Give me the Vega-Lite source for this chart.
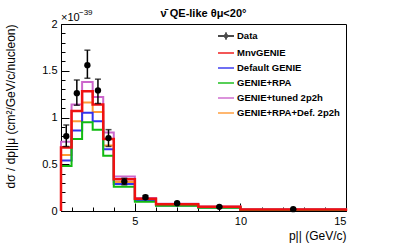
{
  "$schema": "https://vega.github.io/schema/vega-lite/v6.json",
  "width": 285,
  "height": 187,
  "autosize": {"type": "none"},
  "padding": {"left": 61, "top": 24, "right": 61, "bottom": 38},
  "background": "white",
  "config": {
    "font": "Liberation Sans",
    "view": {"stroke": "black", "strokeWidth": 1},
    "axis": {"domainColor": "black", "tickColor": "black", "labelColor": "black", "titleColor": "black", "grid": false, "labelFont": "Liberation Sans", "titleFont": "Liberation Sans", "labelFontSize": 11, "titleFontSize": 12, "titleFontWeight": "normal", "labelOverlap": false}
  },
  "title": {"text": "ν̄ QE-like  θμ<20°", "fontSize": 11, "fontWeight": "bold", "font": "Liberation Sans", "offset": -10, "anchor": "middle", "color": "black"},
  "datasets": {
    "hist": [
      {"m": "GENIE+tuned 2p2h", "i": 0, "x": 1.5, "y": 0},
      {"m": "GENIE+tuned 2p2h", "i": 1, "x": 1.5, "y": 0.74},
      {"m": "GENIE+tuned 2p2h", "i": 2, "x": 2, "y": 1.14},
      {"m": "GENIE+tuned 2p2h", "i": 3, "x": 2.5, "y": 1.38},
      {"m": "GENIE+tuned 2p2h", "i": 4, "x": 3, "y": 1.22},
      {"m": "GENIE+tuned 2p2h", "i": 5, "x": 3.5, "y": 0.84},
      {"m": "GENIE+tuned 2p2h", "i": 6, "x": 4, "y": 0.37},
      {"m": "GENIE+tuned 2p2h", "i": 7, "x": 5, "y": 0.14},
      {"m": "GENIE+tuned 2p2h", "i": 8, "x": 6, "y": 0.078},
      {"m": "GENIE+tuned 2p2h", "i": 9, "x": 8, "y": 0.048},
      {"m": "GENIE+tuned 2p2h", "i": 10, "x": 10, "y": 0.017},
      {"m": "GENIE+tuned 2p2h", "i": 11, "x": 15, "y": 0.017},
      {"m": "GENIE+tuned 2p2h", "i": 12, "x": 15, "y": 0},
      {"m": "GENIE+RPA+Def. 2p2h", "i": 0, "x": 1.5, "y": 0},
      {"m": "GENIE+RPA+Def. 2p2h", "i": 1, "x": 1.5, "y": 0.6},
      {"m": "GENIE+RPA+Def. 2p2h", "i": 2, "x": 2, "y": 0.96},
      {"m": "GENIE+RPA+Def. 2p2h", "i": 3, "x": 2.5, "y": 1.16},
      {"m": "GENIE+RPA+Def. 2p2h", "i": 4, "x": 3, "y": 1.06},
      {"m": "GENIE+RPA+Def. 2p2h", "i": 5, "x": 3.5, "y": 0.7},
      {"m": "GENIE+RPA+Def. 2p2h", "i": 6, "x": 4, "y": 0.31},
      {"m": "GENIE+RPA+Def. 2p2h", "i": 7, "x": 5, "y": 0.12},
      {"m": "GENIE+RPA+Def. 2p2h", "i": 8, "x": 6, "y": 0.065},
      {"m": "GENIE+RPA+Def. 2p2h", "i": 9, "x": 8, "y": 0.041},
      {"m": "GENIE+RPA+Def. 2p2h", "i": 10, "x": 10, "y": 0.014},
      {"m": "GENIE+RPA+Def. 2p2h", "i": 11, "x": 15, "y": 0.014},
      {"m": "GENIE+RPA+Def. 2p2h", "i": 12, "x": 15, "y": 0},
      {"m": "Default GENIE", "i": 0, "x": 1.5, "y": 0},
      {"m": "Default GENIE", "i": 1, "x": 1.5, "y": 0.54},
      {"m": "Default GENIE", "i": 2, "x": 2, "y": 0.86},
      {"m": "Default GENIE", "i": 3, "x": 2.5, "y": 1.05},
      {"m": "Default GENIE", "i": 4, "x": 3, "y": 0.96},
      {"m": "Default GENIE", "i": 5, "x": 3.5, "y": 0.66},
      {"m": "Default GENIE", "i": 6, "x": 4, "y": 0.29},
      {"m": "Default GENIE", "i": 7, "x": 5, "y": 0.11},
      {"m": "Default GENIE", "i": 8, "x": 6, "y": 0.06},
      {"m": "Default GENIE", "i": 9, "x": 8, "y": 0.038},
      {"m": "Default GENIE", "i": 10, "x": 10, "y": 0.013},
      {"m": "Default GENIE", "i": 11, "x": 15, "y": 0.013},
      {"m": "Default GENIE", "i": 12, "x": 15, "y": 0},
      {"m": "GENIE+RPA", "i": 0, "x": 1.5, "y": 0},
      {"m": "GENIE+RPA", "i": 1, "x": 1.5, "y": 0.48},
      {"m": "GENIE+RPA", "i": 2, "x": 2, "y": 0.77},
      {"m": "GENIE+RPA", "i": 3, "x": 2.5, "y": 0.95},
      {"m": "GENIE+RPA", "i": 4, "x": 3, "y": 0.87},
      {"m": "GENIE+RPA", "i": 5, "x": 3.5, "y": 0.59},
      {"m": "GENIE+RPA", "i": 6, "x": 4, "y": 0.26},
      {"m": "GENIE+RPA", "i": 7, "x": 5, "y": 0.1},
      {"m": "GENIE+RPA", "i": 8, "x": 6, "y": 0.055},
      {"m": "GENIE+RPA", "i": 9, "x": 8, "y": 0.034},
      {"m": "GENIE+RPA", "i": 10, "x": 10, "y": 0.012},
      {"m": "GENIE+RPA", "i": 11, "x": 15, "y": 0.012},
      {"m": "GENIE+RPA", "i": 12, "x": 15, "y": 0},
      {"m": "MnvGENIE", "i": 0, "x": 1.5, "y": 0},
      {"m": "MnvGENIE", "i": 1, "x": 1.5, "y": 0.68},
      {"m": "MnvGENIE", "i": 2, "x": 2, "y": 1.07},
      {"m": "MnvGENIE", "i": 3, "x": 2.5, "y": 1.28},
      {"m": "MnvGENIE", "i": 4, "x": 3, "y": 1.14},
      {"m": "MnvGENIE", "i": 5, "x": 3.5, "y": 0.77},
      {"m": "MnvGENIE", "i": 6, "x": 4, "y": 0.34},
      {"m": "MnvGENIE", "i": 7, "x": 5, "y": 0.13},
      {"m": "MnvGENIE", "i": 8, "x": 6, "y": 0.072},
      {"m": "MnvGENIE", "i": 9, "x": 8, "y": 0.045},
      {"m": "MnvGENIE", "i": 10, "x": 10, "y": 0.016},
      {"m": "MnvGENIE", "i": 11, "x": 15, "y": 0.016},
      {"m": "MnvGENIE", "i": 12, "x": 15, "y": 0}
    ],
    "pts": [
      {"m": "Data", "x": 1.75, "y": 0.8, "lo": 0.69, "hi": 0.92},
      {"m": "Data", "x": 2.25, "y": 1.26, "lo": 1.13, "hi": 1.4},
      {"m": "Data", "x": 2.75, "y": 1.56, "lo": 1.42, "hi": 1.72},
      {"m": "Data", "x": 3.25, "y": 1.29, "lo": 1.15, "hi": 1.41},
      {"m": "Data", "x": 3.75, "y": 0.78, "lo": 0.69, "hi": 0.87},
      {"m": "Data", "x": 4.5, "y": 0.315, "lo": 0.28, "hi": 0.35},
      {"m": "Data", "x": 5.5, "y": 0.147, "lo": 0.13, "hi": 0.165},
      {"m": "Data", "x": 7, "y": 0.083, "lo": 0.075, "hi": 0.091},
      {"m": "Data", "x": 9, "y": 0.045, "lo": 0.04, "hi": 0.05},
      {"m": "Data", "x": 12.5, "y": 0.02, "lo": 0.017, "hi": 0.023}
    ],
    "leg": [{"m": "Data", "x": 15, "y": 0}]
  },
  "layer": [
    {
      "data": {"name": "hist"},
      "transform": [{"filter": "datum.m !== 'MnvGENIE'"}],
      "mark": {"type": "line", "interpolate": "step-after", "strokeWidth": 2, "strokeCap": "butt"},
      "encoding": {
        "x": {"field": "x", "type": "quantitative", "scale": {"domain": [1.5, 15], "nice": false, "zero": false},
          "axis": {"orient": "bottom", "values": [5, 10, 15], "format": "~g", "tickSize": -8, "labelPadding": 12, "title": "p|| (GeV/c)", "titleAnchor": "end", "titlePadding": 4}},
        "y": {"field": "y", "type": "quantitative", "scale": {"domain": [0, 2], "nice": false},
          "axis": {"orient": "left", "values": [0, 0.5, 1, 1.5, 2], "format": "~g", "tickSize": -8, "labelPadding": 12, "title": "dσ / dp||μ (cm²/GeV/c/nucleon)", "titleAnchor": "end", "titleX": -44, "titleBaseline": "bottom"}},
        "color": {"field": "m", "type": "nominal",
          "scale": {"domain": ["Data", "MnvGENIE", "Default GENIE", "GENIE+RPA", "GENIE+tuned 2p2h", "GENIE+RPA+Def. 2p2h"], "range": ["#000000", "#ee1111", "#3333ee", "#11bb11", "#cc66cc", "#ff9933"]},
          "legend": {"orient": "none", "legendX": 160, "legendY": 7, "title": null, "padding": 0, "symbolSize": 64, "symbolStrokeWidth": 2, "labelFontSize": 9.5, "labelFontWeight": "bold", "labelFont": "Liberation Sans", "labelColor": "black", "labelOffset": 6, "rowPadding": 5}},
        "order": {"field": "i", "type": "quantitative"}
      }
    },
    {
      "data": {"name": "hist"},
      "transform": [{"filter": "datum.m === 'MnvGENIE'"}],
      "mark": {"type": "line", "interpolate": "step-after", "strokeWidth": 2.5, "strokeCap": "butt"},
      "encoding": {
        "x": {"field": "x", "type": "quantitative", "axis": null},
        "y": {"field": "y", "type": "quantitative", "axis": null},
        "color": {"field": "m", "type": "nominal"},
        "order": {"field": "i", "type": "quantitative"}
      }
    },
    {
      "data": {"name": "pts"},
      "mark": {"type": "errorbar", "color": "black", "thickness": 1.5, "ticks": {"size": 6, "thickness": 1.5, "color": "black"}},
      "encoding": {
        "x": {"field": "x", "type": "quantitative", "axis": null},
        "y": {"field": "lo", "type": "quantitative", "axis": null},
        "y2": {"field": "hi"}
      }
    },
    {
      "data": {"name": "pts"},
      "mark": {"type": "point", "filled": true, "size": 40, "opacity": 1, "color": "black"},
      "encoding": {
        "x": {"field": "x", "type": "quantitative", "axis": null},
        "y": {"field": "y", "type": "quantitative", "axis": null}
      }
    },
    {
      "data": {"name": "leg"},
      "mark": {"type": "point", "size": 0, "filled": false},
      "encoding": {
        "x": {"field": "x", "type": "quantitative",
          "axis": {"orient": "bottom", "values": [2, 3, 4, 6, 7, 8, 9, 11, 12, 13, 14], "tickSize": -4, "labels": false, "domain": false, "title": null}},
        "y": {"field": "y", "type": "quantitative",
          "axis": {"orient": "left", "values": [0.1, 0.2, 0.3, 0.4, 0.6, 0.7, 0.8, 0.9, 1.1, 1.2, 1.3, 1.4, 1.6, 1.7, 1.8, 1.9], "tickSize": -4, "labels": false, "domain": false, "title": null}},
        "color": {"field": "m", "type": "nominal"},
        "shape": {"field": "m", "type": "nominal",
          "scale": {"domain": ["Data", "MnvGENIE", "Default GENIE", "GENIE+RPA", "GENIE+tuned 2p2h", "GENIE+RPA+Def. 2p2h"],
            "range": ["M-2,0H2M0,-0.67V0.67M-0.2,-0.67H0.2M-0.2,0.67H0.2M-0.33,0A0.33,0.33 0 1,0 0.33,0A0.33,0.33 0 1,0 -0.33,0", "M-2,0H2", "M-2,0H2", "M-2,0H2", "M-2,0H2", "M-2,0H2"]}}
      }
    },
    {
      "data": {"values": [{"t": "×10"}]},
      "mark": {"type": "text", "align": "left", "baseline": "bottom", "fontSize": 11, "font": "Liberation Sans", "color": "black", "dy": -1},
      "encoding": {
        "x": {"datum": 1.5, "type": "quantitative", "axis": null},
        "y": {"datum": 2, "type": "quantitative", "axis": null},
        "text": {"field": "t"}
      }
    },
    {
      "data": {"values": [{"t": "−39"}]},
      "mark": {"type": "text", "align": "left", "baseline": "bottom", "fontSize": 8, "font": "Liberation Sans", "color": "black", "dx": 18, "dy": -7},
      "encoding": {
        "x": {"datum": 1.5, "type": "quantitative", "axis": null},
        "y": {"datum": 2, "type": "quantitative", "axis": null},
        "text": {"field": "t"}
      }
    }
  ],
  "resolve": {"axis": {"x": "independent", "y": "independent"}}
}
